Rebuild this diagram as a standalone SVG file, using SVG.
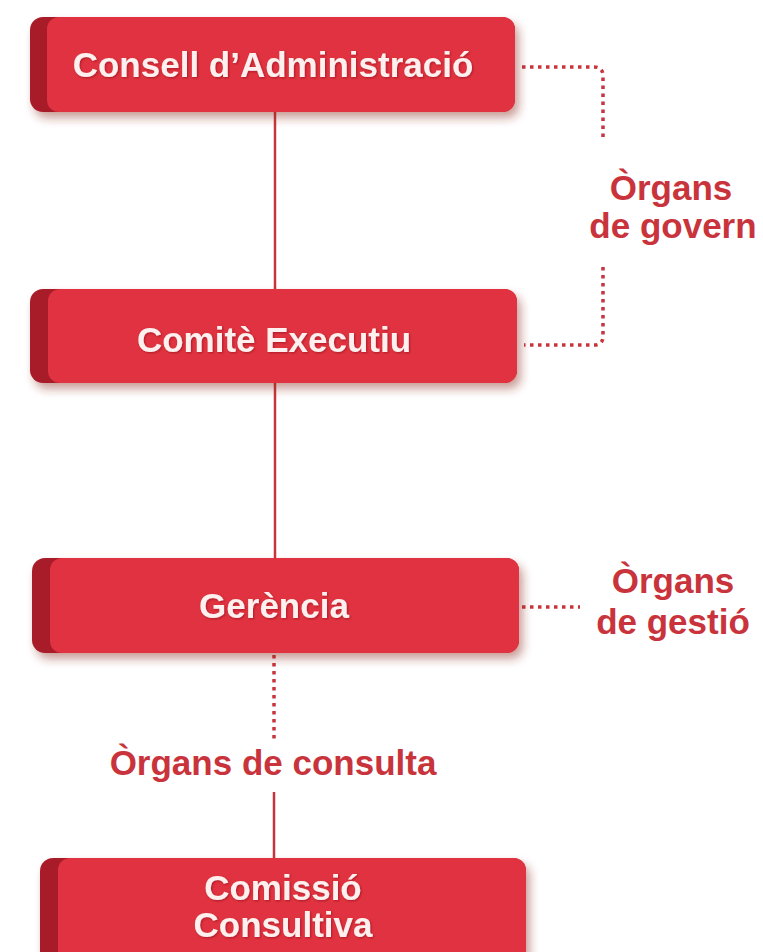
<svg xmlns="http://www.w3.org/2000/svg" width="763" height="952" viewBox="0 0 763 952">
  <defs>
    <filter id="shadow" x="-10%" y="-20%" width="125%" height="150%">
      <feGaussianBlur in="SourceAlpha" stdDeviation="5"/>
      <feOffset dx="4" dy="6" result="b"/>
      <feFlood flood-color="#8a2a20" flood-opacity="0.45"/>
      <feComposite in2="b" operator="in"/>
      <feMerge><feMergeNode/><feMergeNode in="SourceGraphic"/></feMerge>
    </filter>
    <filter id="glow" x="-5%" y="-20%" width="110%" height="140%">
      <feGaussianBlur in="SourceAlpha" stdDeviation="1.2"/>
      <feOffset dx="0.5" dy="1" result="b"/>
      <feFlood flood-color="#7a1018" flood-opacity="0.5"/>
      <feComposite in2="b" operator="in"/>
      <feMerge><feMergeNode/><feMergeNode in="SourceGraphic"/></feMerge>
    </filter>
  </defs>
  <style>
    .edge { fill: #a81d2b; }
    .face { fill: #e0323f; }
    .btxt { font-family: "Liberation Sans", Arial, sans-serif; font-weight: bold; font-size: 35px; fill: #fdf0ee; text-anchor: middle; }
    .ltxt { font-family: "Liberation Sans", Arial, sans-serif; font-weight: bold; font-size: 35px; fill: #c9343c; text-anchor: middle; }
    .solid { stroke: #c8343c; stroke-width: 2.5; fill: none; }
    .dot { stroke: #c8343c; stroke-width: 3.5; fill: none; stroke-dasharray: 3.5 4.5; }
  </style>
  <rect width="763" height="952" fill="#ffffff"/>

  <g id="connectors">
    <line class="solid" x1="275" y1="112" x2="275" y2="289"/>
    <line class="solid" x1="275" y1="383" x2="275" y2="558"/>
    <line class="dot" x1="274" y1="655" x2="274" y2="740"/>
    <line class="solid" x1="274" y1="792" x2="274" y2="858"/>
    <path class="dot" d="M522 67 H594 Q603 67 603 76 V140"/>
    <path class="dot" d="M603 267 V336 Q603 345 594 345 H524"/>
    <line class="dot" x1="522" y1="607" x2="580" y2="607"/>
  </g>

  <g id="consell" filter="url(#shadow)">
    <rect class="edge" x="30" y="17" width="485" height="95" rx="13"/>
    <rect class="face" x="47" y="17" width="468" height="95" rx="12"/>
    <text class="btxt" x="273" y="77" filter="url(#glow)">Consell d’Administració</text>
  </g>

  <g id="comite" filter="url(#shadow)">
    <rect class="edge" x="30" y="289" width="487" height="94" rx="13"/>
    <rect class="face" x="48" y="289" width="469" height="94" rx="12"/>
    <text class="btxt" x="274" y="352" filter="url(#glow)">Comitè Executiu</text>
  </g>

  <g id="gerencia" filter="url(#shadow)">
    <rect class="edge" x="32" y="558" width="487" height="95" rx="13"/>
    <rect class="face" x="50" y="558" width="469" height="95" rx="12"/>
    <text class="btxt" x="274" y="618" filter="url(#glow)">Gerència</text>
  </g>

  <g id="comissio" filter="url(#shadow)">
    <rect class="edge" x="40" y="858" width="486" height="110" rx="13"/>
    <rect class="face" x="58" y="858" width="468" height="110" rx="12"/>
    <text class="btxt" x="283" y="900" filter="url(#glow)">Comissió</text>
    <text class="btxt" x="283" y="937" filter="url(#glow)">Consultiva</text>
  </g>

  <g id="label-govern">
    <text class="ltxt" x="671" y="200">Òrgans</text>
    <text class="ltxt" x="673" y="238">de govern</text>
  </g>

  <g id="label-gestio">
    <text class="ltxt" x="673" y="593">Òrgans</text>
    <text class="ltxt" x="673" y="634">de gestió</text>
  </g>

  <g id="label-consulta">
    <text class="ltxt" x="273" y="775">Òrgans de consulta</text>
  </g>
</svg>
